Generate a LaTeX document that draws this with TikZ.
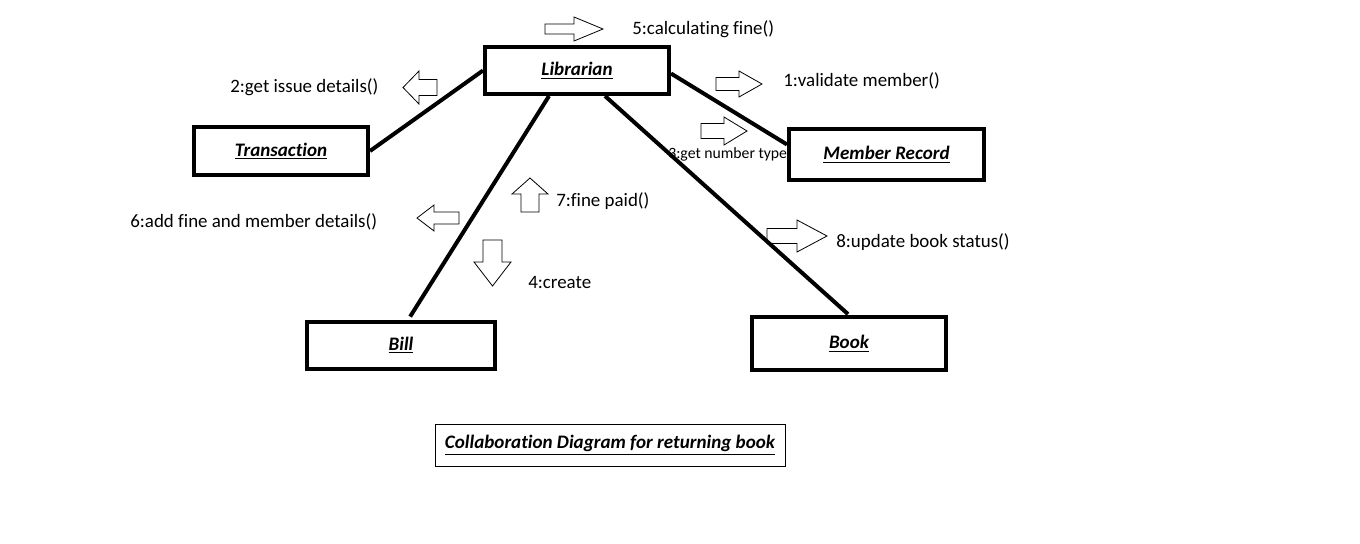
\documentclass[tikz,border=0pt]{standalone}
\usepackage{fontspec}
\setmainfont{Carlito}[Ligatures=CommonOff]
\usetikzlibrary{calc}

% outlined block arrow: base (x,y), angle, length, head length, body half width, head half width
\newcommand{\blockarrow}[7]{%
\draw[line width=0.6pt, shift={(#1,#2)}, rotate=#3] (0,-#6) -- ({#4-#5},-#6) -- ({#4-#5},-#7) -- (#4,0) -- ({#4-#5},#7) -- ({#4-#5},#6) -- (0,#6) -- cycle;}

\begin{document}
\begin{tikzpicture}[x=0.75pt, y=-0.75pt]

\tikzstyle{obj} = [rectangle, draw, line width=3pt, font=\fontsize{14.3}{17}\selectfont\bfseries\itshape]
\tikzstyle{msg} = [anchor=west, inner sep=0pt, font=\fontsize{14.2}{17}\selectfont]
\tikzstyle{link} = [line width=3pt]

\useasboundingbox (0,0) rectangle (1360,543);

\node[obj, minimum width=138pt, minimum height=35.25pt] (lib) at (577,70.5) {\underline{Librarian}};
\node[obj, minimum width=130.5pt, minimum height=36pt] (tr) at (281,151) {\underline{Transaction}};
\node[obj, minimum width=146.25pt, minimum height=38.25pt] (mr) at (886.5,154.5) {\underline{Member Record}};
\node[obj, minimum width=141pt, minimum height=35.25pt] (bi) at (401,345.5) {\underline{Bill}};
\node[obj, minimum width=145.5pt, minimum height=39.75pt] (bo) at (849,343.5) {\underline{Book}};

\node[obj, line width=0.75pt, minimum width=262.5pt, minimum height=31.5pt] (cap) at (610,445) {\underline{Collaboration Diagram for returning book}};

\node[msg] (m5) at (632,29) {5:calculating fine()};
\node[msg] (m2) at (230,87) {2:get issue details()};
\node[msg] (m1) at (783,81) {1:validate member()};
\node[msg, font=\fontsize{11.8}{14}\selectfont] (m3) at (668,154) {3:get number type};
\node[msg] (m6) at (130,222) {6:add fine and member details()};
\node[msg] (m7) at (556,201) {7:fine paid()};
\node[msg] (m4) at (528,282) {4:create};
\node[msg] (m8) at (836,242) {8:update book status()};

\blockarrow{545}{29}{0}{58}{29}{5}{12}
\blockarrow{437}{87.5}{180}{34}{16}{8}{16.5}
\blockarrow{716}{84}{0}{46}{23}{6.5}{13}
\blockarrow{701}{131}{0}{46}{23}{7.5}{14}
\blockarrow{459}{218}{180}{42}{17}{6}{13}
\blockarrow{530}{212}{90}{34}{16}{9}{18}
\blockarrow{492.5}{240}{-90}{46}{24}{9.5}{18.5}
\blockarrow{767}{236}{0}{60}{30}{7.5}{16}

\draw[link] (lib.west) -- (tr.east);
\draw[link] ($(lib.east)+(0,3)$) -- ($(mr.west)+(0,-10)$);
\draw[link, shorten >=3pt] ($(lib.south)+(-28,0)$) -- ($(bi.north)+(7,0)$);
\draw[link, shorten >=1pt] ($(lib.south)+(28,0)$) -- (bo.north);
\end{tikzpicture}
\end{document}
